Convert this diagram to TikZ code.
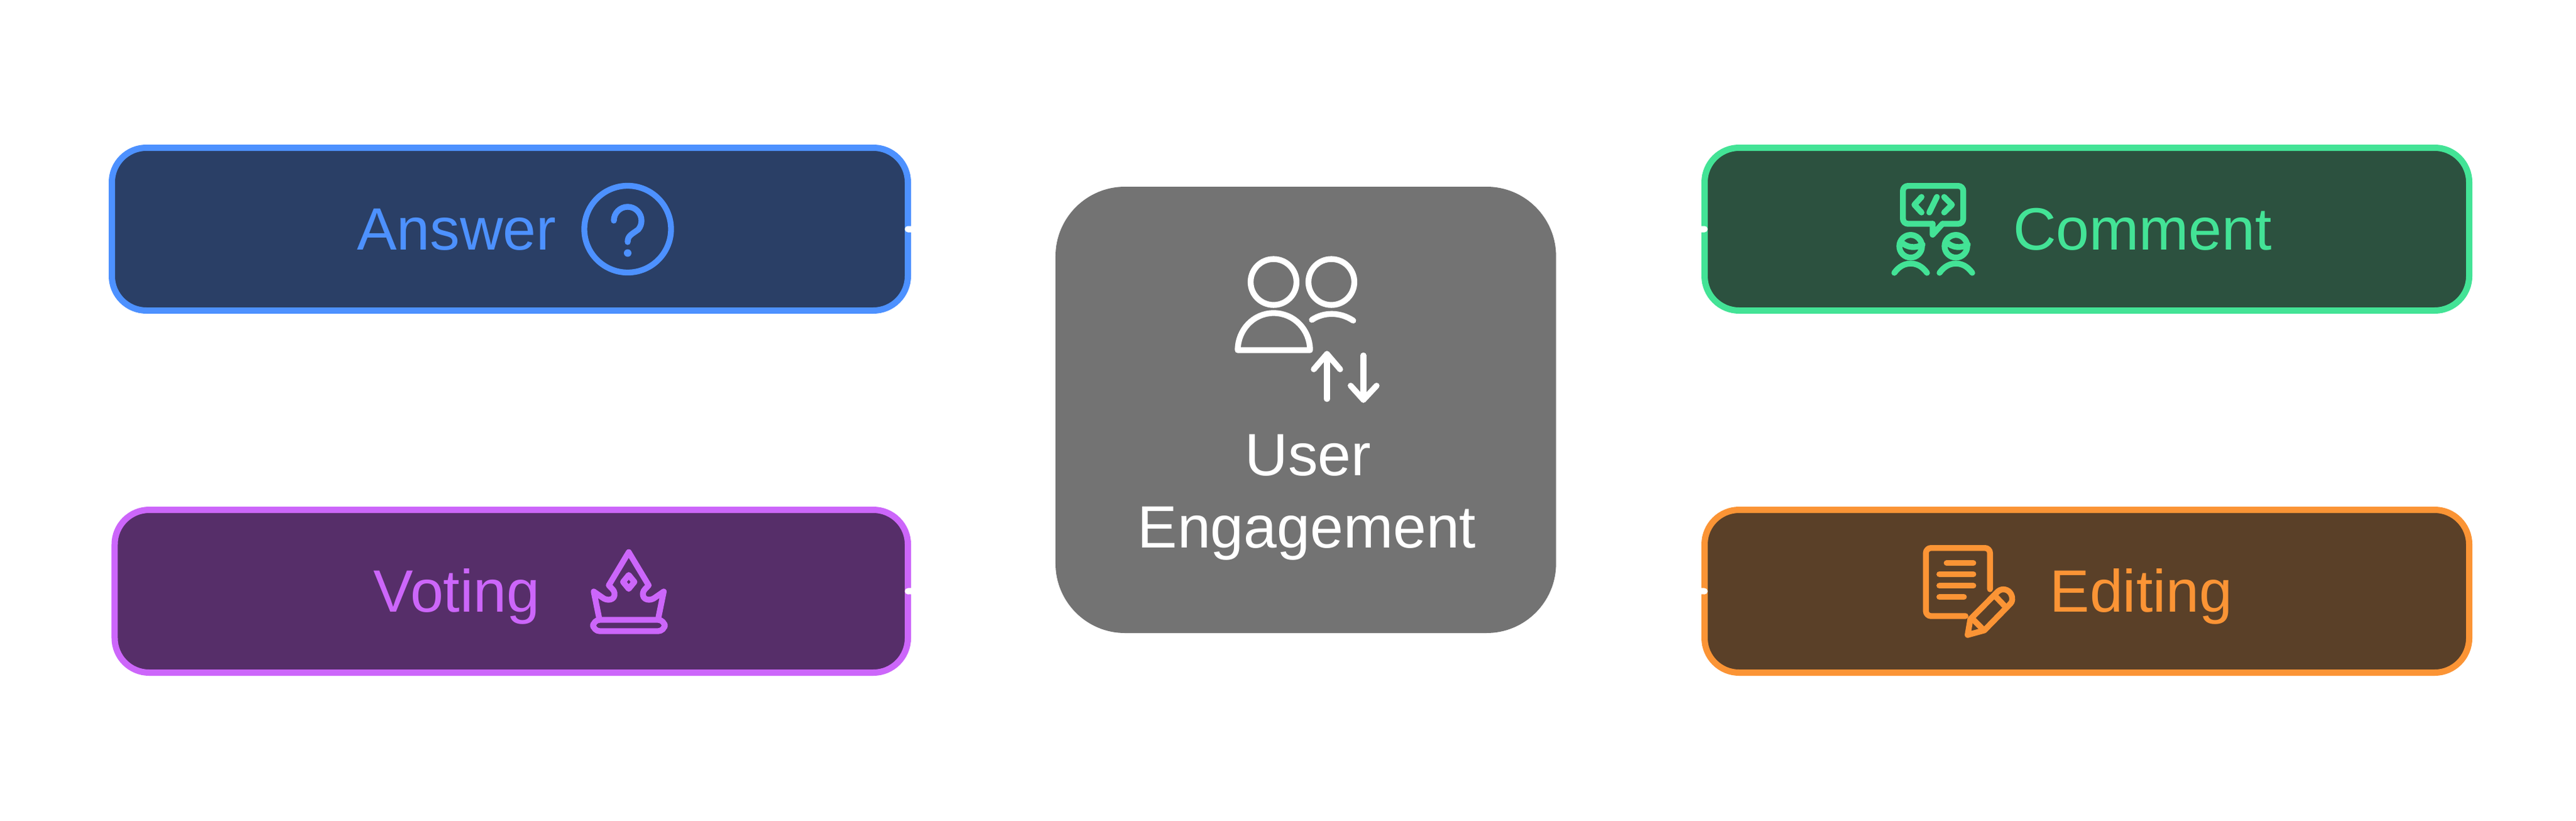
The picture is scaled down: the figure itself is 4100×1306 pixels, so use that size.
\documentclass[tikz,border=0pt]{standalone}
\usepackage{fontspec}
\setmainfont{Liberation Sans}
\usepackage{tikz}
\definecolor{answerline}{RGB}{77,145,255}
\definecolor{answerfill}{RGB}{42,63,102}
\definecolor{votingline}{RGB}{204,102,250}
\definecolor{votingfill}{RGB}{86,46,105}
\definecolor{commentline}{RGB}{67,227,150}
\definecolor{commentfill}{RGB}{44,81,63}
\definecolor{editingline}{RGB}{251,148,53}
\definecolor{editingfill}{RGB}{90,64,40}
\definecolor{engagefill}{RGB}{115,115,115}

\begin{document}
\begin{tikzpicture}[x=0.75pt,y=0.75pt,yscale=-1,xscale=1,
  box/.style={rectangle,outer sep=0pt,inner sep=0pt,rounded corners=41.25pt,line width=7.5pt,minimum height=194.25pt},
  answerbox/.style={box,draw=answerline,fill=answerfill,minimum width=950.25pt},
  votingbox/.style={box,draw=votingline,fill=votingfill,minimum width=946.9pt},
  commentbox/.style={box,draw=commentline,fill=commentfill,minimum width=912.75pt},
  editingbox/.style={box,draw=editingline,fill=editingfill,minimum width=912.75pt},
  engagebox/.style={rectangle,outer sep=0pt,inner sep=0pt,rounded corners=83pt,fill=engagefill,minimum width=597.5pt,minimum height=532.5pt},
  label/.style={anchor=base,inner sep=0pt,font=\fontsize{71.25pt}{87pt}\selectfont},
  icon/.style={line width=7pt,line cap=round,line join=round},
  connect/.style={white,line width=7.5pt,line cap=round,shorten >=5pt}]
\useasboundingbox (0,0) rectangle (4100,1306);

%Shape: Rectangle [id:answer]
\node (answer) [answerbox] at (811.5,364.5) {};
%Shape: Rectangle [id:voting]
\node (voting) [votingbox] at (813.75,940.5) {};
%Shape: Rectangle [id:comment]
\node (comment) [commentbox] at (3321.5,364.5) {};
%Shape: Rectangle [id:editing]
\node (editing) [editingbox] at (3321.5,940.5) {};
%Shape: Rectangle [id:engage]
\node (engage) [engagebox] at (2078.3,652) {};

% Text Node
\node (answertext) [label,text=answerline] at (727,397) {Answer};
% Text Node
\node (votingtext) [label,text=votingline] at (727,973) {Voting};
% Text Node
\node (commenttext) [label,text=commentline] at (3410,397) {Comment};
% Text Node
\node (editingtext) [label,text=editingline] at (3408,973) {Editing};
% Text Node
\node (usertext) [label,text=white] at (2082,756) {User};
% Text Node
\node (engagetext) [label,text=white] at (2080,871) {Engagement};

%Shape: Circle, question icon
\draw [icon,answerline] (999,364.5) circle [radius=69];
\draw [icon,answerline] (977,351) arc [start angle=180,end angle=400,radius=22] .. controls (1005,373) and (999,375) .. (999,385);
\fill [answerline] (999,402.5) circle [radius=6];

%Shape: Polygon, crown icon
\draw [icon,votingline] (953.3,981.7) -- (945,941) -- (958,950) .. controls (966,957) and (980,955) .. (978,943) .. controls (977,938) and (973,936) .. (969,931) -- (1000.7,878.3) -- (1032.4,931) .. controls (1028.4,936) and (1024.4,938) .. (1023.4,943) .. controls (1021.4,955) and (1035.4,957) .. (1043.4,950) -- (1056.4,941) -- (1048.1,981.7);
\draw [icon,votingline,rounded corners=8pt] (944,986) rectangle (1058,1004);
\draw [icon,votingline] (1000.7,914.7) -- (1009.7,925.7) -- (1000.7,936.7) -- (991.7,925.7) -- cycle;

%Shape: Polygon, comment icon
\draw [icon,commentline,rounded corners=6pt] (3076,356) -- (3028.7,356) -- (3028.7,295.7) -- (3124.7,295.7) -- (3124.7,356) -- (3091.7,356);
\draw [icon,commentline] (3091.7,356) -- (3076,373.3) -- (3076,356);
\draw [icon,commentline] (3058.3,313.3) -- (3047,325.7) -- (3058.3,338);
\draw [icon,commentline] (3082.7,313.3) -- (3070.7,338);
\draw [icon,commentline] (3094.3,313.3) -- (3106.7,325.7) -- (3094.3,338);
\foreach \shiftx in {0,72}{
  \draw [icon,commentline,xshift=\shiftx*0.75pt] (3041,391.7) circle [radius=18];
  \draw [icon,commentline,xshift=\shiftx*0.75pt] (3025,384) .. controls (3035,395) and (3050,395) .. (3060,389);
  \draw [icon,commentline,xshift=\shiftx*0.75pt] (3015,434) .. controls (3023,423) and (3032,419.3) .. (3041,419.3) .. controls (3050,419.3) and (3059,423) .. (3067,434);
}

%Shape: Polygon, document and pencil icon
\draw [icon,editingline,rounded corners=6pt] (3167.3,937.3) -- (3167.3,871.7) -- (3065.3,871.7) -- (3065.3,980) -- (3128.3,980);
\draw [icon,editingline] (3098.3,895.7) -- (3140.7,895.7);
\draw [icon,editingline] (3086.7,913.3) -- (3140.7,913.3);
\draw [icon,editingline] (3086.7,931.7) -- (3140.7,931.7);
\draw [icon,editingline] (3086.7,949.7) -- (3125.7,949.7);
\draw [icon,editingline] (3131.7,1010) -- (3136,985) -- (3180,940.7) .. controls (3186.7,935) and (3196.7,937.3) .. (3200.7,945) .. controls (3204,951.7) and (3202.7,957.3) .. (3200,960) -- (3158.3,1002.7) -- cycle;
\draw [icon,editingline] (3141.7,986.7) -- (3154,999);
\draw [icon,editingline] (3177.3,950) -- (3190,963.3);

%Shape: Polygon, users icon
\draw [icon,white] (2027,448.6) circle [radius=36.5];
\draw [icon,white] (2119,448.6) circle [radius=36.5];
\draw [icon,white] (1970,557) .. controls (1970,525) and (1995,498) .. (2027,498) .. controls (2060,498) and (2085,525) .. (2085,557) -- cycle;
\draw [icon,white] (2088,508.8) .. controls (2107,496) and (2133,496) .. (2153.8,510);
\draw [icon,white] (2112,634.7) -- (2112,563);
\draw [icon,white] (2091,587.5) -- (2112,563) -- (2133,587.5);
\draw [icon,white] (2170,565.4) -- (2170,636);
\draw [icon,white] (2149.7,613.5) -- (2170,636) -- (2191,613.5);

%Straight Lines
\draw [connect] (answer.east) to [out=0,in=180] (engage.west);
\draw [connect] (voting.east) to [out=0,in=180] (engage.west);
\draw [connect] (comment.west) to [out=180,in=0] (engage.east);
\draw [connect] (editing.west) to [out=180,in=0] (engage.east);

\end{tikzpicture}
\end{document}
